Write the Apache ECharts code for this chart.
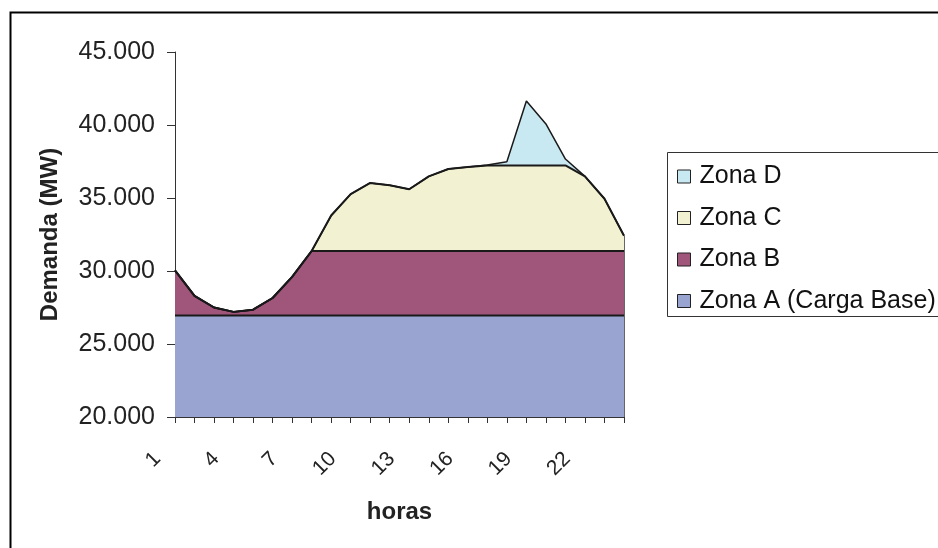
<!DOCTYPE html>
<html>
<head>
<meta charset="utf-8">
<script src="https://cdn.jsdelivr.net/npm/echarts@6/dist/echarts.min.js"></script>
<style>
html,body{margin:0;padding:0;background:#fff;}
#c{width:938px;height:548px;}
</style>
</head>
<body>
<div id="c"></div>
<script>
var hours = ['1','2','3','4','5','6','7','8','9','10','11','12','13','14','15','16','17','18','19','20','21','22','23','24'];
var zonaA = [26950,26950,26950,26950,26950,26950,26950,26950,26950,26950,26950,26950,26950,26950,26950,26950,26950,26950,26950,26950,26950,26950,26950,26950];
var zonaB = [3090,1350,550,250,400,1200,2650,4420,4420,4420,4420,4420,4420,4420,4420,4420,4420,4420,4420,4420,4420,4420,4420,4420];
var zonaC = [0,0,0,0,0,0,0,0,2430,3900,4660,4500,4230,5110,5620,5750,5860,5860,5860,5860,5860,5110,3580,1050];
var zonaD = [0,0,0,0,0,0,0,0,0,0,0,0,0,0,0,0,30,260,4410,2840,440,0,0,0];
var yTicks = [20000,25000,30000,35000,40000,45000];

var names = ['Zona A (Carga Base)','Zona B','Zona C','Zona D'];
var colors = ['#99A4D0','#A0557A','#F2F2D3','#C8E8F2'];
var last = hours.length - 1;
var lastTotal = zonaA[last] + zonaB[last] + zonaC[last] + zonaD[last];

function mk(name, data, color, extra) {
  var s = {
    name: name, type: 'line', stack: 'total', data: data,
    symbol: 'none', silent: true,
    lineStyle: {color: '#1a1a1a', width: 2},
    itemStyle: {color: color, borderColor: '#222', borderWidth: 1},
    areaStyle: {color: color, opacity: 1}
  };
  if (extra) for (var k in extra) s[k] = extra[k];
  return s;
}

var chart = echarts.init(document.getElementById('c'), null, {renderer: 'canvas'});
chart.setOption({
  animation: false,
  backgroundColor: '#fff',
  textStyle: {fontFamily: 'Liberation Sans, Arial, sans-serif'},
  grid: {left: 175, right: 314, top: 52, bottom: 131, containLabel: false},
  graphic: [
    {type: 'rect', left: 8, top: 10, silent: true, z: -10,
     shape: {width: 1200, height: 800}, style: {fill: 'none', stroke: '#000', lineWidth: 2}},
    {type: 'rect', left: 667, top: 152, silent: true, z: -5,
     shape: {width: 400, height: 164}, style: {fill: '#fff', stroke: '#333', lineWidth: 1}}
  ],
  legend: {
    orient: 'vertical', left: 672, top: 159,
    data: ['Zona D','Zona C','Zona B','Zona A (Carga Base)'],
    itemWidth: 13, itemHeight: 13, itemGap: 16.5,
    icon: 'rect',
    itemStyle: {borderColor: '#222', borderWidth: 1},
    textStyle: {fontSize: 25, color: '#111', lineHeight: 25, padding: [0,0,0,4]}
  },
  xAxis: {
    type: 'category', data: hours, boundaryGap: false,
    name: 'horas', nameLocation: 'middle', nameGap: 83,
    nameTextStyle: {fontSize: 24, fontWeight: 'bold', color: '#222'},
    axisLine: {lineStyle: {color: '#333', width: 1}},
    axisTick: {show: true, interval: 0, length: 6, lineStyle: {color: '#333'}},
    axisLabel: {interval: 2, rotate: 45, fontSize: 21, color: '#222', margin: 21, padding: [0,25,0,0]},
    splitLine: {show: false}
  },
  yAxis: {
    type: 'value', min: 20000, max: 45000, interval: 5000,
    name: 'Demanda (MW)', nameLocation: 'middle', nameGap: 113,
    nameTextStyle: {fontSize: 24, fontWeight: 'bold', color: '#222'},
    axisLine: {show: true, lineStyle: {color: '#333', width: 1}},
    axisTick: {show: true, length: 8, lineStyle: {color: '#333'}},
    axisLabel: {fontSize: 25, color: '#222', margin: 20,
      formatter: function (v) { return yTicks.indexOf(v) >= 0 ? (v/1000).toFixed(3) : ''; }},
    splitLine: {show: false}
  },
  series: [
    mk(names[0], zonaA, colors[0], {
      markLine: {silent: true, symbol: 'none', label: {show: false},
        lineStyle: {color: '#666', width: 1, type: 'solid'},
        data: [[{coord: [hours[last], 20000]}, {coord: [hours[last], lastTotal]}]]}
    }),
    mk(names[1], zonaB, colors[1]),
    mk(names[2], zonaC, colors[2]),
    mk(names[3], zonaD, colors[3], {lineStyle: {color: '#1a1a1a', width: 1.5}})
  ]
});
</script>
</body>
</html>
